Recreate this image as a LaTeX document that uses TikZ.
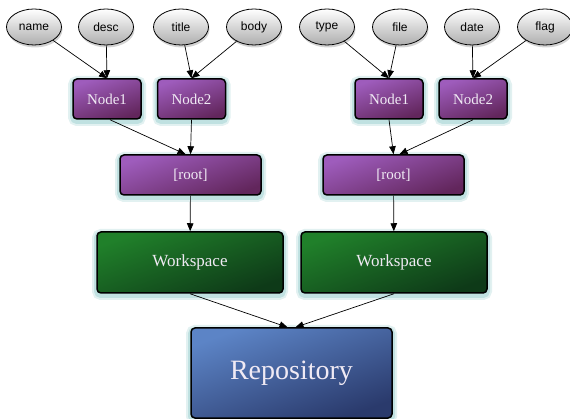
\documentclass[tikz,border=0pt]{standalone}
\usepackage{fontspec}
\setmainfont{Liberation Serif}
\newfontfamily\lblfont{Liberation Sans}
\usetikzlibrary{shapes.geometric,shadows,arrows.meta}
\definecolor{glowc}{RGB}{140,200,200}
\definecolor{purpA}{RGB}{158,92,188}
\definecolor{purpB}{RGB}{98,38,92}
\definecolor{greenA}{RGB}{32,128,42}
\definecolor{greenB}{RGB}{14,58,24}
\definecolor{blueA}{RGB}{92,132,198}
\definecolor{blueB}{RGB}{42,58,108}
\definecolor{txtc}{RGB}{240,234,244}
\tikzset{
  attr/.style={ellipse, draw=black, line width=0.8pt, minimum width=55pt, minimum height=36pt, inner sep=0pt,
    top color=white, bottom color=black!32, font=\lblfont\fontsize{12}{14}\selectfont,
    drop shadow={shadow xshift=1pt, shadow yshift=-2.5pt, opacity=0.35}},
  glow/.style={preaction={draw=glowc, line width=10pt, opacity=0.25, transform canvas={yshift=-2pt}},
    preaction={draw=glowc, line width=6pt, opacity=0.4, transform canvas={yshift=-2pt}}},
  box/.style={rectangle, draw=black, line width=1.5pt, rounded corners=4pt, inner sep=0pt,
    text=txtc, glow},
  purp/.style={box, top color=purpA, bottom color=purpB, shading angle=20, font=\fontsize{15}{17}\selectfont},
  grn/.style={box, top color=greenA, bottom color=greenB, shading angle=20, font=\fontsize{17}{19}\selectfont,
    minimum width=186pt, minimum height=61pt},
  blu/.style={box, top color=blueA, bottom color=blueB, shading angle=20, font=\fontsize{28}{30}\selectfont,
    minimum width=201pt, minimum height=90pt},
  small/.style={purp, minimum width=68pt, minimum height=40pt},
  rootbox/.style={purp, minimum width=141pt, minimum height=40pt},
  conn/.style={line width=0.7pt, -{Triangle[length=8pt,width=6.5pt]}},
}
\begin{document}
\begin{tikzpicture}[x=1pt,y=-1pt]
\useasboundingbox (0,0) rectangle (570,419);
% attribute ellipses
\node[attr] (name)  at (34,27)  {name};
\node[attr] (desc)  at (106,27) {desc};
\node[attr] (title) at (181,27) {title};
\node[attr] (body)  at (254,27) {body};
\node[attr] (type)  at (327,27) {type};
\node[attr] (file)  at (400,27) {file};
\node[attr] (date)  at (472,27) {date};
\node[attr] (flag)  at (545,27) {flag};
% purple nodes
\node[small] (n1L) at (107,99)   {Node1};
\node[small] (n2L) at (191.5,99) {Node2};
\node[small] (n1R) at (389,99)   {Node1};
\node[small] (n2R) at (473,99)   {Node2};
\node[rootbox] (rootL) at (190.5,175) {[root]};
\node[rootbox] (rootR) at (393.5,175) {[root]};
% workspaces
\node[grn] (wsL) at (190,262.5) {Workspace};
\node[grn] (wsR) at (394,262.5) {Workspace};
% repository
\node[blu] (repo) at (291.5,373) {Repository};
% connectors
\draw[conn] (name)  -- (n1L.north);
\draw[conn] (desc)  -- (n1L.north);
\draw[conn] (title) -- (n2L.north);
\draw[conn] (body)  -- (n2L.north);
\draw[conn] (type)  -- (n1R.north);
\draw[conn] (file)  -- (n1R.north);
\draw[conn] (date)  -- (n2R.north);
\draw[conn] (flag)  -- (n2R.north);
\draw[conn] ([xshift=3pt]n1L.south) -- ([xshift=-5pt]rootL.north);
\draw[conn] (n2L.south) -- (rootL.north);
\draw[conn] (n1R.south) -- (rootR.north);
\draw[conn] (n2R.south) -- ([xshift=6pt]rootR.north);
\draw[conn] (rootL) -- (wsL);
\draw[conn] (rootR) -- (wsR);
\draw[conn] (wsL.south) -- ([xshift=-4pt]repo.north);
\draw[conn] (wsR.south) -- ([xshift=4pt]repo.north);
\end{tikzpicture}
\end{document}
